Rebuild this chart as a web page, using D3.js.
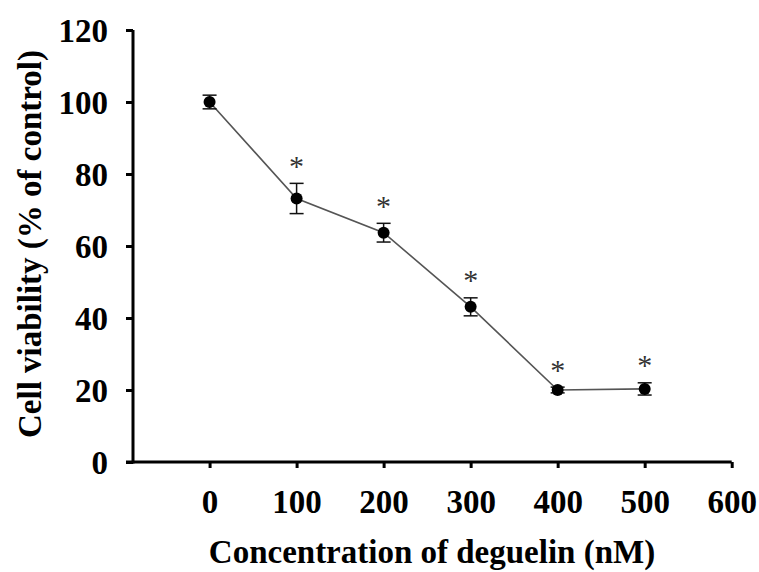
<!DOCTYPE html>
<html>
<head>
<meta charset="utf-8">
<script src="https://cdn.jsdelivr.net/npm/d3@7"></script>
<style>
  html, body { margin: 0; padding: 0; background: #fff; }
  svg { display: block; }
  text { font-family: "Liberation Serif", "Times New Roman", serif; font-weight: bold; }
</style>
</head>
<body>
<div id="chart"></div>
<script>
// concentration (nM) → viability (% of control), with error bars
const concentrations = [0, 100, 200, 300, 400, 500];
const viability      = [100, 73.2, 63.7, 43.1, 20.0, 20.3];
const errors         = [1.9, 4.2, 2.6, 2.5, 0.8, 1.7];
const significant    = [false, true, true, true, true, true];
const xTicks = [0, 100, 200, 300, 400, 500, 600];
const yTicks = [0, 20, 40, 60, 80, 100, 120];

const W = 759, H = 572;

const svg = d3.select('#chart')
  .append('svg')
  .attr('width', W)
  .attr('height', H);

const x = d3.scaleLinear().domain([-88, 600]).range([133, 731.7]);
const y = d3.scaleLinear().domain([0, 120]).range([462, 30]);

const pts = concentrations.map((c, i) => ({
  c, v: viability[i], e: errors[i], sig: significant[i]
}));

// axes
const yAxis = svg.append('g')
  .attr('transform', `translate(${x.range()[0]},0)`)
  .call(d3.axisLeft(y).tickValues(yTicks).tickSize(7).tickPadding(18).tickSizeOuter(0));
const xAxis = svg.append('g')
  .attr('transform', `translate(0,${y(0)})`)
  .call(d3.axisBottom(x).tickValues(xTicks).tickSize(6).tickPadding(22).tickSizeOuter(0));

[yAxis, xAxis].forEach(g => {
  g.select('.domain').attr('stroke', '#000').attr('stroke-width', 3);
  g.selectAll('.tick line').attr('stroke', '#000').attr('stroke-width', 3);
  g.selectAll('.tick text')
    .attr('fill', '#000')
    .style('font-size', '33px')
    .style('font-family', '"Liberation Serif", "Times New Roman", serif')
    .style('font-weight', 'bold');
});
yAxis.selectAll('.tick text').attr('dy', '0.35em');
// extend x axis line left to meet y tick marks
xAxis.select('.domain').attr('d', `M126,0H${x.range()[1]}`);
yAxis.select('.domain').attr('d', `M0,${y.range()[1]}V${y(0) + 1.5}`);

// connecting line
svg.append('path')
  .datum(pts)
  .attr('fill', 'none')
  .attr('stroke', '#555')
  .attr('stroke-width', 1.6)
  .attr('d', d3.line().x(d => x(d.c)).y(d => y(d.v)));

// error bars
const eb = svg.append('g').attr('stroke', '#111').attr('stroke-width', 1.5);
pts.forEach(d => {
  const cx = x(d.c), top = y(d.v + d.e), bot = y(d.v - d.e);
  eb.append('line').attr('x1', cx).attr('x2', cx).attr('y1', top).attr('y2', bot);
  eb.append('line').attr('x1', cx - 7).attr('x2', cx + 7).attr('y1', top).attr('y2', top);
  eb.append('line').attr('x1', cx - 7).attr('x2', cx + 7).attr('y1', bot).attr('y2', bot);
});

// markers
svg.selectAll('circle.pt')
  .data(pts)
  .join('circle')
  .attr('class', 'pt')
  .attr('cx', d => x(d.c))
  .attr('cy', d => y(d.v))
  .attr('r', 6)
  .attr('fill', '#000');

// significance asterisks
svg.selectAll('text.sig')
  .data(pts.filter(d => d.sig))
  .join('text')
  .attr('class', 'sig')
  .attr('x', d => x(d.c))
  .attr('y', d => y(d.v + d.e) - 26)
  .attr('dy', '0.62em')
  .attr('text-anchor', 'middle')
  .attr('fill', '#333')
  .style('font-size', '30px')
  .style('font-weight', 'normal')
  .text('*');

// axis titles
svg.append('text')
  .attr('transform', 'translate(41,244) rotate(-90)')
  .attr('text-anchor', 'middle')
  .style('font-size', '33px')
  .text('Cell viability (% of control)');

svg.append('text')
  .attr('x', 432)
  .attr('y', 563)
  .attr('text-anchor', 'middle')
  .style('font-size', '33px')
  .text('Concentration of deguelin (nM)');
</script>
</body>
</html>
